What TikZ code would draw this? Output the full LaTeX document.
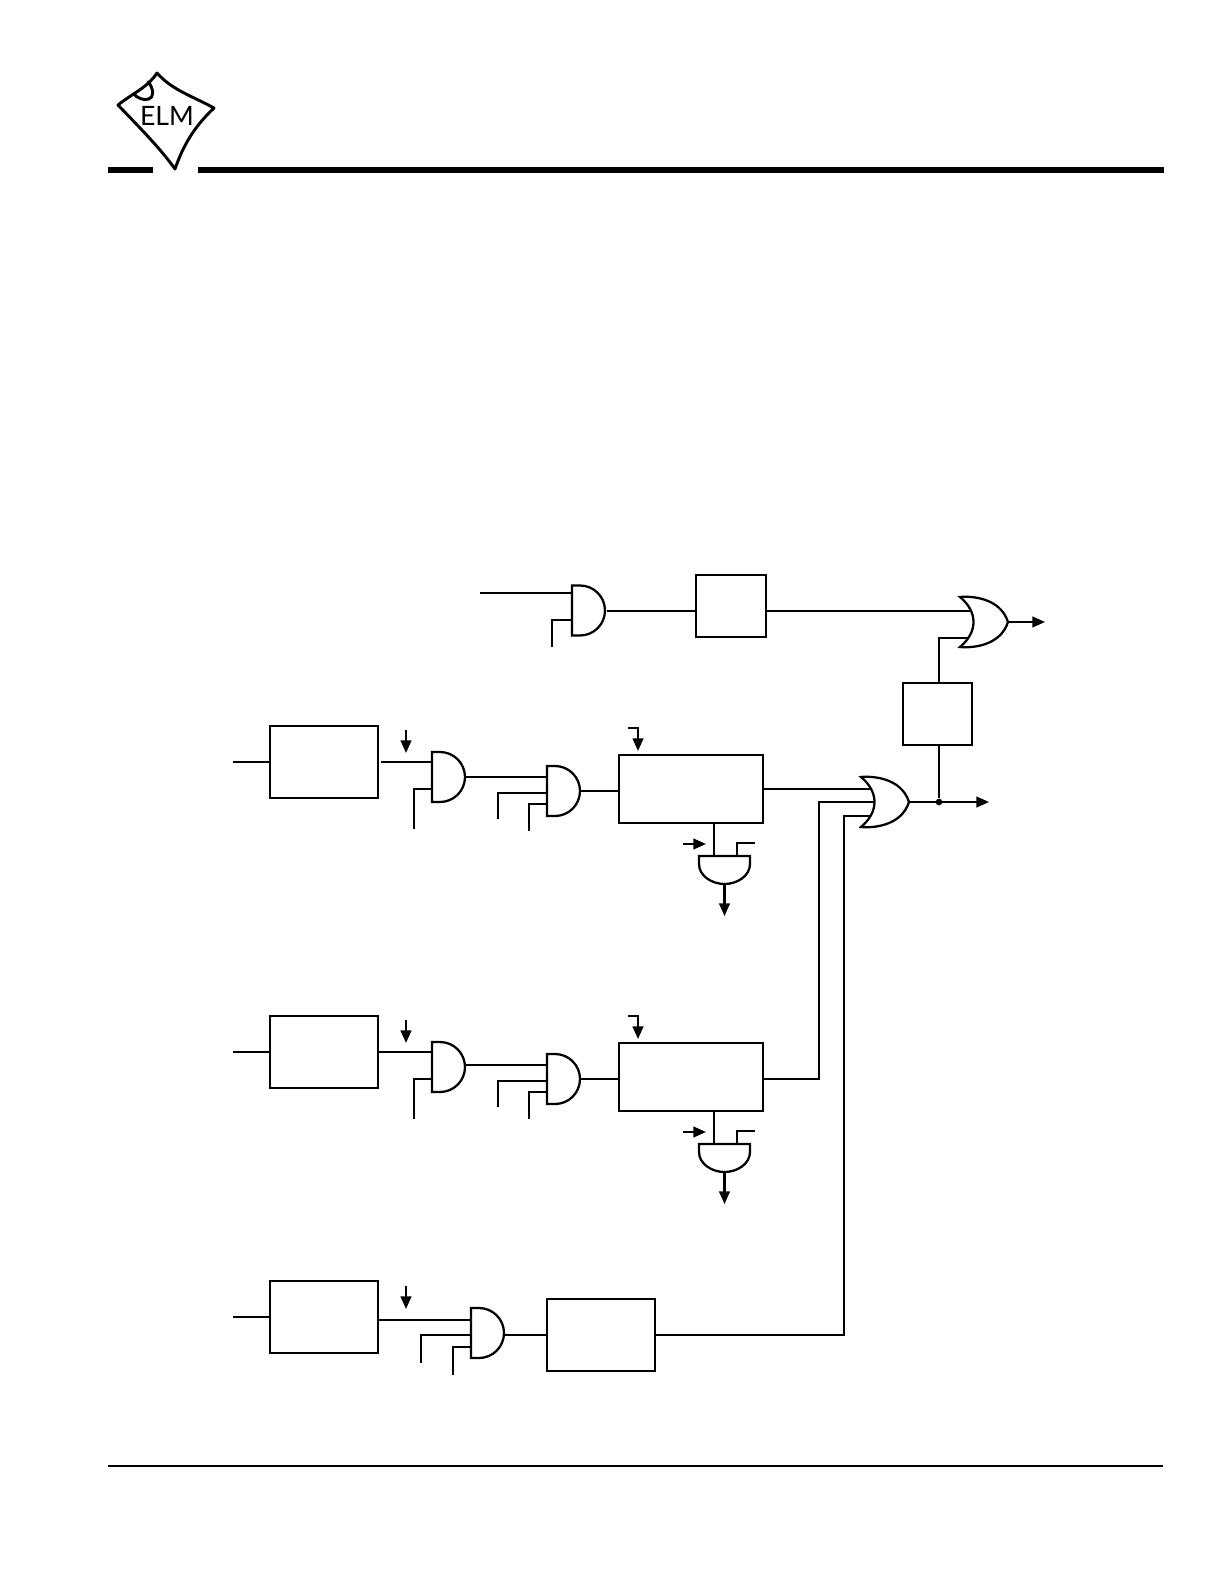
\documentclass[tikz,border=0pt]{standalone}
\usepackage{fontspec}
\setmainfont{Lato}
\usetikzlibrary{arrows.meta,backgrounds}
\tikzset{
  box/.style={draw, line width=1.7pt, minimum width=#1, minimum height=54pt, inner sep=0pt, outer sep=0pt},
  gatebox/.style={minimum width=#1, minimum height=37.5pt, inner sep=0pt, outer sep=0pt},
  wire/.style={line width=1.7pt},
  arr/.style={line width=1.7pt, -{Triangle[length=9.5pt,width=8pt]}}
}
% gates: an empty node and its outline
\newcommand{\orgate}[2]{
  \node[gatebox=36pt] (#1) at (#2) {};
  \begin{scope}[shift={(#1.north west)}]
    \draw[wire, fill=white] (0,0) .. controls (10,-1) and (40,0) .. (48,25)
      .. controls (40,50) and (10,51) .. (0,50) .. controls (18,35) and (18,15) .. (0,0) -- cycle;
  \end{scope}
}
\newcommand{\andgate}[2]{
  \node[gatebox=24.75pt] (#1) at (#2) {};
  \begin{scope}[shift={(#1.north west)}]
    \draw[wire] (0,0) -- (8,0) .. controls (21.8,0) and (33,11.2) .. (33,25)
      .. controls (33,38.8) and (21.8,50) .. (8,50) -- (0,50) -- cycle;
  \end{scope}
}
\newcommand{\downgate}[2]{
  \node[gatebox=38.25pt, minimum height=21pt] (#1) at (#2) {};
  \begin{scope}[shift={(#1.north west)}]
    \draw[wire] (0,0) -- (51,0) -- (51,8) .. controls (51,20) and (38,28) .. (25.5,28)
      .. controls (13,28) and (0,20) .. (0,8) -- cycle;
  \end{scope}
}
\begin{document}
\begin{tikzpicture}[x=0.75pt, y=-0.75pt]
\useasboundingbox (0,0) rectangle (1224,1584);
% header and footer rules
\coordinate (ruleA) at (108,170); \coordinate (ruleB) at (153,170);
\coordinate (ruleC) at (198,170); \coordinate (ruleD) at (1164,170);
\draw[line width=4.5pt] (ruleA) -- (ruleB) (ruleC) -- (ruleD);
\coordinate (footA) at (108,1465.5); \coordinate (footB) at (1163,1465.5);
\draw[line width=1.5pt] (footA) -- (footB);
% logo
\draw[line width=2.2pt, line join=round] (157,73) .. controls (172,90) and (192,96) .. (214,108)
  .. controls (196,125) and (184,143) .. (175,169) .. controls (160,148) and (140,128) .. (118,105)
  .. controls (133,93) and (147,88) .. (157,73) -- cycle;
\draw[line width=2.2pt] (133,93) .. controls (141,104) and (162,102) .. (148,81);
\node[font=\fontsize{20}{20}\selectfont, inner sep=0pt] (elm) at (167,116) {ELM};
% top row
\andgate{gtop}{588.5,610.5}
\node[box=52.5pt, minimum height=46.5pt] (btop) at (731,606) {};
\orgate{otop}{984,622}
\node[box=51.75pt, minimum height=46.5pt] (bmid) at (937.5,714) {};
\orgate{omid}{885,802}
% first and second channels
\foreach \n/\dy/\dz/\ux in {a/0/0/381,b/288/290/379} {
  \node[box=81pt] (in\n) at (324,{762+\dz}) {};
  \andgate{g\n}{448.5,{777+\dz}}
  \andgate{h\n}{563.5,{791+\dy}}
  \node[box=108pt, minimum height=51pt] (r\n) at (691,{789+\dy}) {};
  \downgate{d\n}{724.5,{870+\dy}}
  \coordinate (s\n) at (233,{762+\dz});
  \coordinate (u\n) at (\ux,{762+\dz});
  \coordinate (v\n) at (414,{829+\dz});
  \coordinate (vk\n) at (414,{789+\dz});
  \coordinate (gh\n) at (500,{777+\dy});
  \coordinate (w\n) at (498,{819+\dy});
  \coordinate (wk\n) at (498,{793+\dy});
  \coordinate (x\n) at (529,{831+\dy});
  \coordinate (xk\n) at (529,{804+\dy});
  \coordinate (p\n) at (406,{730+\dz});
  \coordinate (q\n) at (406,{753+\dz});
  \coordinate (k\n) at (628,{728+\dy});
  \coordinate (l\n) at (638,{751+\dy});
  \coordinate (e\n) at (683,{844+\dy});
  \coordinate (f\n) at (706,{844+\dy});
  \coordinate (dl\n) at (714,{856+\dy});
  \coordinate (dr\n) at (737,{856+\dy});
  \coordinate (m\n) at (755,{843+\dy});
  \coordinate (t\n) at (724.5,{916+\dy});
  \draw[wire] (s\n) -- (in\n.west |- s\n);
  \draw[wire] (u\n) -- (g\n.west |- u\n);
  \draw[wire] (v\n) -- (vk\n) -- (g\n.west |- vk\n);
  \draw[wire] (g\n.east |- gh\n) -- (h\n.west |- gh\n);
  \draw[wire] (w\n) -- (wk\n) -- (h\n.west |- wk\n);
  \draw[wire] (x\n) -- (xk\n) -- (h\n.west |- xk\n);
  \draw[wire] (h\n.east) -- (r\n.west |- h\n.east);
  \draw[wire] (r\n.south -| dl\n) -- (dl\n);
  \draw[wire] (m\n) -| (dr\n);
  \draw[arr] (p\n) -- (q\n);
  \draw[arr] (k\n) -| (l\n);
  \draw[arr] (e\n) -- (f\n);
  \draw[arr] (d\n.south) -- (t\n);
}
% third channel
\node[box=81pt] (inc) at (324,1317) {};
\andgate{hc}{487.5,1333}
\node[box=81pt] (rc) at (601,1335) {};
\coordinate (sc) at (233,1317);
\coordinate (uc) at (378,1320);
\coordinate (wc) at (421,1363);
\coordinate (wkc) at (421,1335);
\coordinate (xc) at (453,1375);
\coordinate (xkc) at (453,1347);
\coordinate (pc) at (406,1286);
\coordinate (qc) at (406,1309);
\draw[wire] (sc) -- (inc.west |- sc);
\draw[wire] (uc) -- (hc.west |- uc);
\draw[wire] (wc) -- (wkc) -- (hc.west |- wkc);
\draw[wire] (xc) -- (xkc) -- (hc.west |- xkc);
\draw[wire] (hc.east |- rc) -- (rc.west);
\draw[arr] (pc) -- (qc);
% top row wires
\coordinate (tin) at (480,593);
\coordinate (tlo) at (552,647);
\coordinate (tlk) at (552,620);
\coordinate (gto) at (607,611);
\coordinate (bto) at (767,611);
\coordinate (toplow) at (939,638);
\coordinate (topout) at (1045,622);
\coordinate (midout) at (989,802);
\coordinate (rbk) at (819,1079);
\coordinate (rbt) at (819,802);
\coordinate (rck) at (844,1335);
\coordinate (rct) at (844,816);
\coordinate (rat) at (800,789);
\node[circle, fill, inner sep=0pt, minimum size=5pt] (tap) at (939,802) {};
\draw[wire] (tin) -- (gtop.west |- tin);
\draw[wire] (tlo) -- (tlk) -- (gtop.west |- tlk);
\draw[wire] (gto) -- (btop.west |- gto);
\draw[arr] (otop.east) -- (topout);
\draw[arr] (omid.east) -- (midout);
\begin{scope}[on background layer]
\draw[wire] (bto) -- (otop.center |- bto);
\draw[wire] (bmid.north -| tap) -- (toplow) -- (otop.center |- toplow);
\draw[wire] (bmid.south -| tap) -- (tap);
\draw[wire] (ra.east |- rat) -- (omid.center |- rat);
\draw[wire] (rb.east |- rbk) -- (rbk) -- (rbt) -- (omid.center);
\draw[wire] (rc.east) -- (rck) -- (rct) -- (omid.center |- rct);
\end{scope}
\end{tikzpicture}
\end{document}
